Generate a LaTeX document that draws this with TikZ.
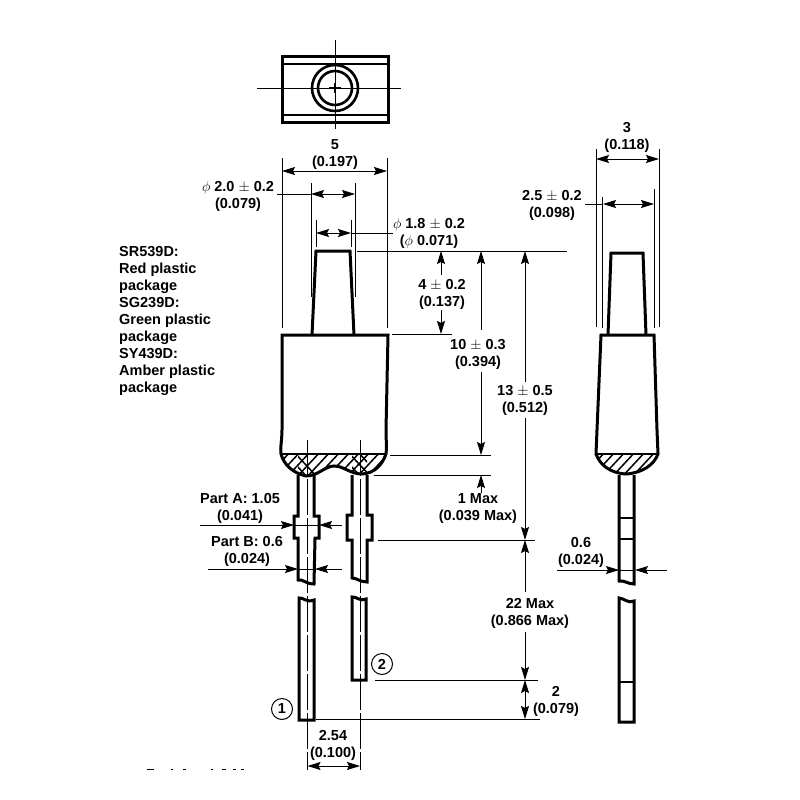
\documentclass[tikz,border=0pt]{standalone}
\usepackage{fontspec}
\setmainfont{Liberation Sans}
\usetikzlibrary{arrows.meta}

\tikzset{
    x=1pt, y=-1pt,
    >={Stealth[length=13pt, width=8pt, inset=2pt]},
    outline/.style={line width=3pt, line join=miter},
    thinline/.style={line width=1pt},
    centerline/.style={line width=0.9pt, dash pattern=on 36pt off 3pt},
    hatchline/.style={line width=1.5pt},
    dimline/.style={line width=1pt, <->},
    leader/.style={line width=1pt, ->},
    label/.style={font=\bfseries\fontsize{14.5}{17}\selectfont, align=center, inner sep=0pt, yshift=-1.5pt},
    pinmark/.style={draw, circle, line width=1pt, minimum size=21pt, inner sep=0pt, font=\bfseries\fontsize{14.5}{17}\selectfont},
}

\begin{document}
\begin{tikzpicture}
    \useasboundingbox (0, 0) rectangle (800, 800);

    % top view
    \draw[outline] (282, 57) rectangle (388, 122);
    \draw[outline, line width=1.8pt] (282, 64) -- (388, 64) (282, 115) -- (388, 115);
    \draw[outline, line width=2.6pt] (335, 88) circle (23) (335, 88) circle (17);
    \draw[thinline] (257, 88) -- (401, 88) (335, 40) -- (335, 129);
    \draw[thinline, line width=1.4pt] (329, 88) -- (341, 88) (335, 83) -- (335, 93);

    % front view
    \begin{scope}
        \clip (281, 454) .. controls (284, 465) and (293, 473) .. (306, 476) .. controls (318, 476) and (325, 466) .. (334, 466) .. controls (344, 466) and (350, 474) .. (362, 474) .. controls (375, 473) and (382, 465) .. (386, 454) -- cycle;
        \foreach \hx in {264, 274, ..., 394}
            \draw[hatchline] (\hx, 480) -- (\hx + 28, 450);
        \clip (298, 450) rectangle (314, 480) (352, 450) rectangle (367, 480);
        \foreach \hx in {282, 292, 336, 346, 356}
            \draw[hatchline] (\hx, 450) -- (\hx + 28, 480);
    \end{scope}
    \draw[outline] (282, 335) -- (388, 335) -- (386, 430) .. controls (386, 440) and (387, 448) .. (386, 454) .. controls (382, 465) and (375, 473) .. (362, 474) .. controls (350, 474) and (344, 466) .. (334, 466) .. controls (325, 466) and (318, 476) .. (306, 476) .. controls (293, 473) and (284, 465) .. (281, 454) .. controls (280, 448) and (282, 440) .. (282, 430) -- cycle;
    \draw[outline, line width=2pt] (281, 454) -- (386, 454);
    \draw[outline] (312, 335) -- (316, 251) -- (350, 251) -- (354, 335);

    \draw[outline] (298, 475) -- (298, 516) -- (294, 516) -- (294, 538) -- (298, 538) -- (298, 580) .. controls (303, 579) and (306, 584) .. (314, 584) -- (315, 538) -- (319, 538) -- (319, 516) -- (314, 516) -- (314, 475);
    \draw[outline] (352, 475) -- (352, 515) -- (347, 515) -- (347, 540) -- (352, 540) -- (352, 578) .. controls (357, 578) and (360, 582) .. (367, 582) -- (367, 540) -- (372, 540) -- (372, 515) -- (367, 515) -- (367, 475);
    \draw[outline] (299, 598) .. controls (303, 597) and (306, 603) .. (314, 600) -- (314, 720) -- (299, 720) -- cycle;
    \draw[outline] (352, 597) .. controls (356, 596) and (360, 602) .. (366, 599) -- (366, 680) -- (352, 680) -- cycle;

    \draw[centerline] (307.5, 440) -- (307.5, 770);
    \draw[centerline] (360, 440) -- (360, 770);

    % extension lines, front
    \draw[thinline] (282, 158) -- (282, 328) (387, 158) -- (387, 328);
    \draw[thinline] (311, 183) -- (311, 297) (355, 183) -- (355, 297);
    \draw[thinline] (316, 220) -- (316, 247) (351, 220) -- (351, 247);
    \draw[thinline] (357, 251) -- (567, 251);
    \draw[thinline] (392, 334) -- (452, 334);
    \draw[thinline] (390, 455) -- (491, 455) (374, 475) -- (491, 475);
    \draw[thinline] (378, 540) -- (535, 540);
    \draw[thinline] (375, 680) -- (538, 680);
    \draw[thinline] (316, 719) -- (540, 719);

    % dimensions, front
    \draw[dimline] (282, 171) -- (387, 171);
    \draw[dimline] (311, 194) -- (355, 194);
    \draw[thinline] (277, 194) -- (311, 194);
    \draw[dimline] (316, 233) -- (351, 233);
    \draw[thinline] (351, 233) -- (393, 233);
    \draw[leader] (441, 275) -- (441, 251);
    \draw[leader] (441, 310) -- (441, 334);
    \draw[leader] (481, 330) -- (481, 251);
    \draw[leader] (481, 372) -- (481, 455);
    \draw[leader] (481, 493) -- (481, 475);
    \draw[leader] (525, 382) -- (525, 251);
    \draw[leader] (525, 418) -- (525, 540);
    \draw[leader] (525, 592) -- (525, 540);
    \draw[leader] (525, 632) -- (525, 680);
    \draw[dimline] (525, 680) -- (525, 719);
    \draw[dimline] (307.5, 766) -- (360, 766);
    \draw[leader] (200, 525) -- (294, 525);
    \draw[leader] (342, 525) -- (319, 525);
    \draw[thinline] (294, 525) -- (319, 525);
    \draw[leader] (208, 569) -- (298, 569);
    \draw[leader] (342, 569) -- (315, 569);
    \draw[thinline] (298, 569) -- (315, 569);

    % side view
    \begin{scope}
        \clip (596, 454) .. controls (600, 465) and (610, 473) .. (626, 474) .. controls (642, 473) and (654, 465) .. (658, 454) -- cycle;
        \foreach \hx in {579, 589, ..., 659}
            \draw[hatchline] (\hx, 480) -- (\hx + 28, 450);
    \end{scope}
    \draw[outline] (601, 335) -- (654, 335) -- (657, 430) -- (658, 454) .. controls (654, 465) and (642, 473) .. (626, 474) .. controls (610, 473) and (600, 465) .. (596, 454) -- (597, 430) -- cycle;
    \draw[outline, line width=2pt] (596, 454) -- (658, 454);
    \draw[outline] (608, 335) -- (611, 253) -- (643, 253) -- (646, 335);
    \draw[outline] (619, 475) -- (619, 581) .. controls (624, 580) and (628, 584) .. (634, 584) -- (634, 475);
    \draw[outline, line width=1.8pt] (619, 518) -- (634, 518) (619, 539) -- (634, 539);
    \draw[outline] (619, 598) .. controls (624, 598) and (628, 604) .. (634, 601) -- (634, 722) -- (619, 722) -- cycle;
    \draw[outline, line width=1.8pt] (619, 682) -- (634, 682);

    \draw[thinline] (596, 149) -- (596, 327) (659, 149) -- (659, 327);
    \draw[thinline] (602, 197) -- (602, 328) (654, 189) -- (654, 328);
    \draw[dimline] (596, 159) -- (659, 159);
    \draw[dimline] (603, 204) -- (654, 204);
    \draw[thinline] (585, 204) -- (602, 204);
    \draw[leader] (557, 570) -- (619, 570);
    \draw[leader] (667, 570) -- (635, 570);
    \draw[thinline] (619, 570) -- (635, 570);

    % stray marks along the cut edge
    \foreach \mx/\mw in {147/7, 171/2, 183/3, 211/2, 222/4, 233/3, 241/3}
        \draw[thinline] (\mx, 769) -- ++(\mw, 0);

    % labels
    \node (widthlabel) [label] at (335, 153.5) {5\\(0.197)};
    \node (lenslabel) [label] at (238, 194.5) {$\phi$ 2.0 $\pm$ 0.2\\(0.079)};
    \node (tiplabel) [label] at (429, 231.5) {$\phi$ 1.8 $\pm$ 0.2\\($\phi$ 0.071)};
    \node (heightlabel) [label] at (442, 292.5) {4 $\pm$ 0.2\\(0.137)};
    \node (bodylabel) [label] at (478, 352.5) {10 $\pm$ 0.3\\(0.394)};
    \node (totallabel) [label] at (525, 398.5) {13 $\pm$ 0.5\\(0.512)};
    \node (standofflabel) [label] at (478, 507.5) {1 Max\\(0.039 Max)};
    \node (leadlabel) [label] at (530, 611.5) {22 Max\\(0.866 Max)};
    \node (shortlabel) [label] at (556, 699.5) {2\\(0.079)};
    \node (pitchlabel) [label] at (333, 743.5) {2.54\\(0.100)};
    \node (partalabel) [label] at (240, 506.5) {Part A: 1.05\\(0.041)};
    \node (partblabel) [label] at (247, 549.5) {Part B: 0.6\\(0.024)};
    \node (depthlabel) [label] at (627, 135.5) {3\\(0.118)};
    \node (lensdepthlabel) [label] at (552, 203.5) {2.5 $\pm$ 0.2\\(0.098)};
    \node (sidepinlabel) [label] at (581, 550.5) {0.6\\(0.024)};
    \node (colorlabel) [label, align=left, anchor=north west] at (119, 245) {SR539D:\\Red plastic\\package\\SG239D:\\Green plastic\\package\\SY439D:\\Amber plastic\\package};
    \node (pinone) [pinmark] at (282, 709) {1};
    \node (pintwo) [pinmark] at (382, 664) {2};
\end{tikzpicture}
\end{document}
